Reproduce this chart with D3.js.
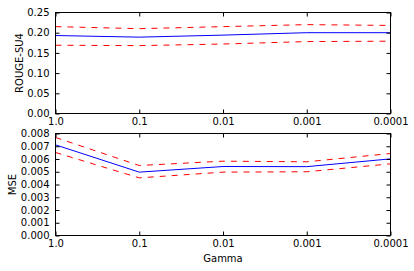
<!DOCTYPE html>
<html>
<head>
<meta charset="utf-8">
<script src="https://cdn.jsdelivr.net/npm/d3@7"></script>
<style>
  html, body { margin: 0; padding: 0; background: #fff; }
  svg { display: block; }
  svg text { font-family: "DejaVu Sans", sans-serif; font-size: 10px; fill: #000; }
</style>
</head>
<body>
<div id="chart"></div>
<script>
// Gamma sweep: ROUGE-SU4 (top) and MSE (bottom), mean +/- band
const gammas = ['1.0', '0.1', '0.01', '0.001', '0.0001'];

const rougeMean  = [0.193, 0.189, 0.194, 0.200, 0.200];
const rougeUpper = [0.215, 0.210, 0.215, 0.220, 0.218];
const rougeLower = [0.169, 0.168, 0.172, 0.178, 0.179];
const rougeTicks = [0, 0.05, 0.10, 0.15, 0.20, 0.25];

const mseMean  = [0.00711, 0.00497, 0.00541, 0.00540, 0.00601];
const mseUpper = [0.00769, 0.00549, 0.00583, 0.00578, 0.00643];
const mseLower = [0.00651, 0.00452, 0.00497, 0.00500, 0.00562];
const mseTicks = [0, 0.001, 0.002, 0.003, 0.004, 0.005, 0.006, 0.007, 0.008];

const W = 414, H = 271;
const svg = d3.select('#chart').append('svg').attr('width', W).attr('height', H);

const x = d3.scalePoint().domain(gammas).range([55.5, 390.5]);

function panel(top, bottom, ticks, fmt, series, yLabel, yLabelX, showXLabel) {
    const y = d3.scaleLinear().domain([ticks[0], ticks[ticks.length - 1]]).range([bottom, top]);
    const g = svg.append('g');

    // lines
    const line = d3.line().x((d, i) => x(gammas[i])).y(d => y(d));
    series.forEach(s => {
        g.append('path')
            .attr('d', line(s.values))
            .attr('fill', 'none')
            .attr('stroke', s.color)
            .attr('stroke-width', 1)
            .attr('stroke-dasharray', s.dash || null);
    });

    // inside ticks, all four sides
    const tl = 4;
    g.append('g').attr('transform', 'translate(55.5,0)')
        .call(d3.axisLeft(y).tickValues(ticks).tickSize(-tl).tickFormat(fmt).tickPadding(6))
        .call(a => a.select('.domain').remove());
    g.append('g').attr('transform', 'translate(390.5,0)')
        .call(d3.axisRight(y).tickValues(ticks).tickSize(-tl).tickFormat(''))
        .call(a => a.select('.domain').remove());
    g.append('g').attr('transform', 'translate(0,' + bottom + ')')
        .call(d3.axisBottom(x).tickSize(-tl).tickPadding(4))
        .call(a => a.select('.domain').remove());
    g.append('g').attr('transform', 'translate(0,' + top + ')')
        .call(d3.axisTop(x).tickSize(-tl).tickFormat(''))
        .call(a => a.select('.domain').remove());

    g.append('rect')
        .attr('x', 55.5).attr('y', top)
        .attr('width', 335).attr('height', bottom - top)
        .attr('fill', 'none').attr('stroke', '#000').attr('stroke-width', 1);

    g.append('text')
        .attr('transform', 'translate(' + yLabelX + ',' + ((top + bottom) / 2) + ') rotate(-90)')
        .attr('text-anchor', 'middle')
        .attr('dy', '0.35em')
        .text(yLabel);

    if (showXLabel) {
        g.append('text')
            .attr('x', x('0.01')).attr('y', 262)
            .attr('text-anchor', 'middle')
            .text('Gamma');
    }
}

panel(12.5, 113.5, rougeTicks, d3.format('.2f'), [
    { values: rougeUpper, color: '#ff0000', dash: '6,6' },
    { values: rougeLower, color: '#ff0000', dash: '6,6' },
    { values: rougeMean,  color: '#0000ff' }
], 'ROUGE-SU4', 19, false);

panel(133.5, 235.5, mseTicks, d3.format('.3f'), [
    { values: mseUpper, color: '#ff0000', dash: '6,6' },
    { values: mseLower, color: '#ff0000', dash: '6,6' },
    { values: mseMean,  color: '#0000ff' }
], 'MSE', 12, true);
</script>
</body>
</html>
